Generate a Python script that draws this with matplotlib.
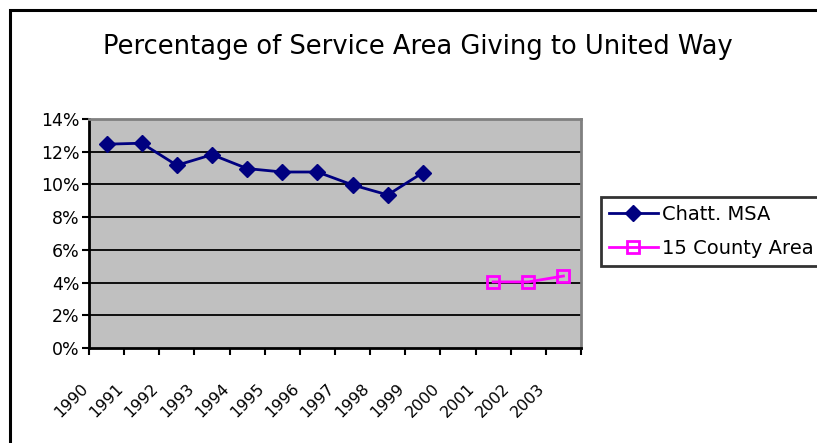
import matplotlib
matplotlib.use("Agg")
import matplotlib.pyplot as plt
import matplotlib.transforms as mtransforms
from matplotlib.patches import Rectangle
import numpy as np

title = "Percentage of Service Area Giving to United Way"
years = ["1990", "1991", "1992", "1993", "1994", "1995", "1996",
         "1997", "1998", "1999", "2000", "2001", "2002", "2003"]
chatt_years = ["1990", "1991", "1992", "1993", "1994", "1995", "1996",
               "1997", "1998", "1999"]
chatt_msa = [12.46, 12.52, 11.17, 11.82, 10.97, 10.76, 10.76, 9.97, 9.36, 10.72]
county_years = ["2001", "2002", "2003"]
county_15 = [4.04, 4.04, 4.40]
y_ticks = [0, 2, 4, 6, 8, 10, 12, 14]
y_labels = ["0%", "2%", "4%", "6%", "8%", "10%", "12%", "14%"]

plt.rcParams['font.family'] = ['DejaVu Sans']

W, H = 817, 443
fig = plt.figure(figsize=(W / 100, H / 100), dpi=100)
fig.patch.set_facecolor("white")

# outer chart border
fig.patches.append(Rectangle((10 / W, -0.05), 1.2, (H - 10) / H + 0.05,
                             transform=fig.transFigure, fill=False,
                             edgecolor="black", linewidth=2.2, zorder=0))

ax = fig.add_axes([89 / W, (H - 348) / H, (581 - 89) / W, (348 - 119) / H])
ax.set_facecolor("#C0C0C0")

idx = {y: i for i, y in enumerate(years)}
xc = [idx[y] for y in chatt_years]
xp = [idx[y] for y in county_years]

ax.plot(xc, chatt_msa, color="#000080", lw=2, marker="D", ms=8.5,
        mfc="#000080", mec="#000080", label="Chatt. MSA", zorder=3,
        clip_on=False)
ax.plot(xp, county_15, color="#FF00FF", lw=2, marker="s", ms=8,
        mfc="none", mec="#FF00FF", mew=2, label="15 County Area", zorder=3,
        clip_on=False)

ax.set_xlim(-0.5, len(years) - 0.5)
ax.set_ylim(0, 14)

for yv in y_ticks[1:-1]:
    ax.axhline(yv, color="black", lw=1.3, zorder=1)

ax.set_yticks(y_ticks)
ax.set_yticklabels(y_labels, fontsize=12.5)
ax.tick_params(axis="y", direction="out", length=5, width=1.5, pad=2,
               colors="black")

ax.set_xticks(np.arange(len(years) + 1) - 0.5, minor=True)
ax.set_xticks(np.arange(len(years)))
ax.set_xticklabels(years, fontsize=11.5, rotation=45, ha="right",
                   va="top", rotation_mode="anchor")
ax.tick_params(axis="x", which="minor", direction="out", length=5,
               width=1.5)
ax.tick_params(axis="x", which="major", length=0, pad=0)
offset = mtransforms.ScaledTranslation(-26 / 100, -33 / 100, fig.dpi_scale_trans)
for lbl in ax.get_xticklabels():
    lbl.set_transform(lbl.get_transform() + offset)

ax.spines["left"].set_color("black")
ax.spines["left"].set_linewidth(2)
ax.spines["bottom"].set_color("black")
ax.spines["bottom"].set_linewidth(2)
ax.spines["top"].set_color("#808080")
ax.spines["top"].set_linewidth(2)
ax.spines["right"].set_color("#808080")
ax.spines["right"].set_linewidth(2)

fig.text(418 / W, 1 - 47 / H, title, fontsize=18.5, ha="center",
         va="center")

leg = fig.legend(loc="upper left", bbox_to_anchor=(601 / W, 1 - 197 / H),
                 fontsize=14, frameon=True, fancybox=False,
                 edgecolor="black", borderpad=0.42, handlelength=2.5,
                 handletextpad=0.2, labelspacing=0.75, borderaxespad=0)
leg.get_frame().set_linewidth(2)

fig.savefig("out.png", dpi=100)
